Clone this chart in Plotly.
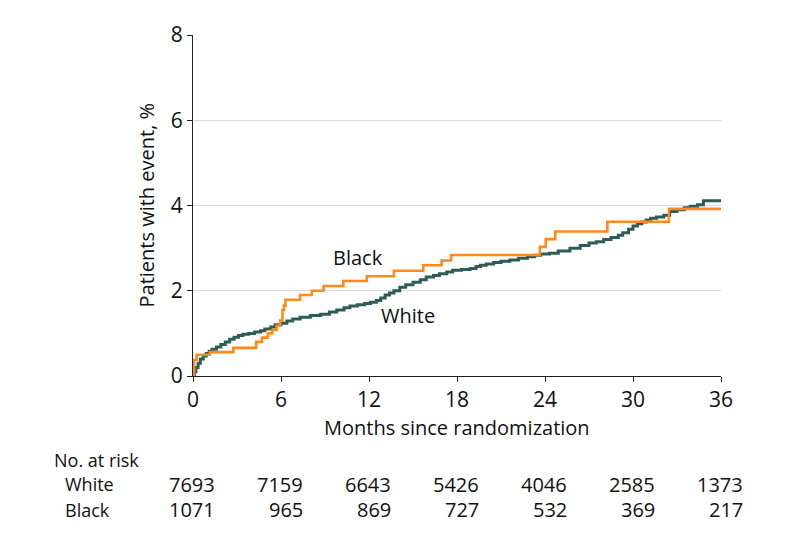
import plotly.graph_objects as go

# ---- data ----
white_months = [0, 0.1, 0.2, 0.35, 0.5, 0.7, 0.9, 1.1, 1.3, 1.6, 1.9, 2.2, 2.5, 2.8, 3.1, 3.4, 3.8, 4.2, 4.6, 4.9,
                5.3, 5.6, 6.0, 6.4, 6.8, 7.3, 8.0, 8.7, 9.3, 9.8, 10.3, 10.7, 11.2, 11.7, 12.1, 12.5, 12.8, 13.1, 13.4, 13.7,
                14.1, 14.5, 15.0, 15.5, 15.9, 16.4, 16.8, 17.3, 17.7, 18.3, 18.9, 19.3, 19.6, 20.0, 20.5, 21.0, 21.6, 22.2,
                22.8, 23.3, 23.7, 24.3, 24.9, 25.7, 26.4, 27.0, 27.5, 28.0, 28.5, 29.0, 29.3, 29.7, 30.0, 30.3, 30.6, 30.9,
                31.2, 31.6, 32.1, 32.5, 33.0, 33.5, 33.9, 34.4, 34.8, 36.0]
white_pct = [0, 0.1, 0.2, 0.3, 0.4, 0.47, 0.53, 0.58, 0.63, 0.68, 0.74, 0.8, 0.86, 0.91, 0.95, 0.98, 1.0, 1.03, 1.06, 1.1,
             1.15, 1.2, 1.24, 1.29, 1.34, 1.38, 1.42, 1.45, 1.5, 1.55, 1.6, 1.64, 1.67, 1.7, 1.73, 1.77, 1.83, 1.9, 1.95, 2.0,
             2.08, 2.14, 2.2, 2.26, 2.32, 2.36, 2.4, 2.44, 2.48, 2.5, 2.52, 2.57, 2.6, 2.63, 2.66, 2.69, 2.72, 2.76,
             2.8, 2.83, 2.86, 2.88, 2.93, 3.0, 3.06, 3.12, 3.15, 3.2, 3.25, 3.3, 3.36, 3.44, 3.52, 3.57, 3.61, 3.66,
             3.7, 3.73, 3.77, 3.86, 3.9, 3.95, 3.98, 4.02, 4.11, 4.11]

black_months = [0, 0.07, 0.25, 1.15, 2.75, 4.3, 4.7, 5.1, 5.4, 5.7, 5.95, 6.1, 6.2, 6.3, 7.3, 8.1, 8.9, 10.25, 11.85,
                13.7, 15.7, 16.95, 17.6, 23.65, 24.05, 24.7, 28.25, 32.45, 36]
black_pct = [0, 0.38, 0.5, 0.56, 0.66, 0.8, 0.9, 1.0, 1.08, 1.18, 1.3, 1.55, 1.65, 1.79, 1.9, 2.0, 2.11, 2.23, 2.34,
             2.47, 2.6, 2.71, 2.84, 3.03, 3.21, 3.39, 3.62, 3.92, 3.92]

risk_months = [0, 6, 12, 18, 24, 30, 36]
risk_white = [7693, 7159, 6643, 5426, 4046, 2585, 1373]
risk_black = [1071, 965, 869, 727, 532, 369, 217]

x_ticks = [0, 6, 12, 18, 24, 30, 36]
y_ticks = [0, 2, 4, 6, 8]

WHITE_COLOR = "#2e5d59"
BLACK_COLOR = "#ff8a1c"
FONT = "Open Sans"
TXT = "#111111"

fig = go.Figure()
fig.add_trace(go.Scatter(x=white_months, y=white_pct, mode="lines", line=dict(shape="hv", color=WHITE_COLOR, width=3),
                         name="White", showlegend=False))
fig.add_trace(go.Scatter(x=black_months, y=black_pct, mode="lines", line=dict(shape="hv", color=BLACK_COLOR, width=2.6),
                         name="Black", showlegend=False))

# curve labels
fig.add_annotation(x=11.25, y=2.78, xref="x", yref="y", text="Black", showarrow=False,
                   font=dict(family=FONT, size=20, color=TXT))
fig.add_annotation(x=14.65, y=1.42, xref="x", yref="y", text="White", showarrow=False,
                   font=dict(family=FONT, size=20, color=TXT))

# axis titles
fig.add_annotation(x=0.5, y=-0.15, xref="paper", yref="paper", text="Months since randomization", showarrow=False,
                   font=dict(family=FONT, size=20, color=TXT), yanchor="middle")
fig.add_annotation(x=-0.089, y=0.5, xref="paper", yref="paper", text="Patients with event, %", showarrow=False,
                   textangle=-90, font=dict(family=FONT, size=20, color=TXT), xanchor="center")

# risk table
lf = dict(family=FONT, size=18, color=TXT)
nf = dict(family=FONT, size=20, color=TXT)
fig.add_annotation(x=-0.267, y=-0.247, xref="paper", yref="paper", text="No. at risk", showarrow=False,
                   xanchor="left", yanchor="middle", font=lf)
fig.add_annotation(x=-0.246, y=-0.318, xref="paper", yref="paper", text="White", showarrow=False,
                   xanchor="left", yanchor="middle", font=lf)
fig.add_annotation(x=-0.246, y=-0.392, xref="paper", yref="paper", text="Black", showarrow=False,
                   xanchor="left", yanchor="middle", font=lf)
for m, w, b in zip(risk_months, risk_white, risk_black):
    fig.add_annotation(x=m, y=-0.318, xref="x", yref="paper", text=str(w), showarrow=False,
                       xanchor="right", yanchor="middle", xshift=24, font=nf)
    fig.add_annotation(x=m, y=-0.392, xref="x", yref="paper", text=str(b), showarrow=False,
                       xanchor="right", yanchor="middle", xshift=24, font=nf)

fig.update_layout(
    width=794, height=538,
    margin=dict(l=185, r=81, t=21, b=170),
    paper_bgcolor="white", plot_bgcolor="white",
    font=dict(family=FONT, size=18, color=TXT),
    xaxis=dict(range=[0, 36], tickvals=x_ticks, ticks="outside", ticklen=5, tickcolor="#222",
               showline=True, linecolor="#222", linewidth=1.2, showgrid=False, zeroline=False,
               tickfont=dict(family=FONT, size=21, color=TXT), fixedrange=True),
    yaxis=dict(range=[0, 8], tickvals=y_ticks, ticks="outside", ticklen=5, tickcolor="#222",
               showline=True, linecolor="#222", linewidth=1.2, showgrid=True, gridcolor="#d9d9d9", gridwidth=1.2,
               zeroline=False, tickfont=dict(family=FONT, size=21, color=TXT), fixedrange=True),
)

fig.write_html("out.html")
